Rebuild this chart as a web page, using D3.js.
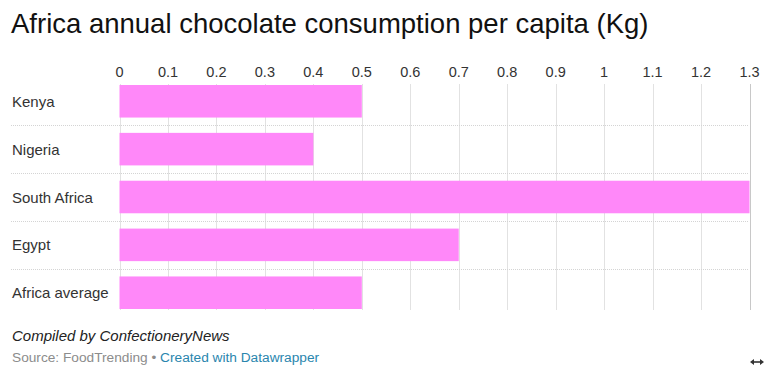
<!DOCTYPE html>
<html><head><meta charset="utf-8">
<script src="https://cdn.jsdelivr.net/npm/d3@7"></script>
<style>
body{margin:0;background:#fff;}
svg{display:block;font-family:"Liberation Sans",Arial,sans-serif;}
</style></head>
<body>
<svg id="c" width="772" height="374"></svg>
<script>
const categories = ["Kenya","Nigeria","South Africa","Egypt","Africa average"];
const values = [0.5, 0.4, 1.3, 0.7, 0.5];
const tickValues = [0,0.1,0.2,0.3,0.4,0.5,0.6,0.7,0.8,0.9,1,1.1,1.2,1.3];
const title = "Africa annual chocolate consumption per capita (Kg)";
const note = "Compiled by ConfectioneryNews";

const svg = d3.select("#c");
const x = d3.scaleLinear().domain([0,1.3]).range([119.5,749.5]);
const y = d3.scaleBand().domain(categories).range([85,309]).paddingInner(0.32).paddingOuter(0);
const rowStep = y.step();

svg.append("text").attr("x",11).attr("y",33).attr("font-size",27.5).attr("fill","#111").text(title);

// vertical grid
svg.append("g").selectAll("line").data(tickValues).join("line")
  .attr("x1",d=>Math.round(x(d))+0.5).attr("x2",d=>Math.round(x(d))+0.5)
  .attr("y1",84).attr("y2",310)
  .attr("stroke",d=>d===1.3?"#c8c8c8":"#e2e2e2").attr("stroke-width",1);

// row separators (dotted)
svg.append("g").selectAll("line").data(categories.slice(1)).join("line")
  .attr("x1",11).attr("x2",749)
  .attr("y1",d=>Math.round(y(d)-(rowStep-y.bandwidth())/2)+0.5)
  .attr("y2",d=>Math.round(y(d)-(rowStep-y.bandwidth())/2)+0.5)
  .attr("stroke","#d4d4d4").attr("stroke-dasharray","1,1");

// tick labels
svg.append("g").selectAll("text").data(tickValues).join("text")
  .attr("x",d=>x(d)).attr("y",77).attr("text-anchor","middle")
  .attr("font-size",14.5).attr("fill","#333").text(d=>d3.format("~g")(d));

// bars
svg.append("g").selectAll("rect").data(categories).join("rect")
  .attr("x",x(0)).attr("y",d=>y(d)).attr("width",(d,i)=>x(values[i])-x(0))
  .attr("height",y.bandwidth()).attr("fill","#ff88f9");

// row labels
svg.append("g").selectAll("text").data(categories).join("text")
  .attr("x",12).attr("y",d=>y(d)+y.bandwidth()/2+5.5).attr("font-size",15)
  .attr("fill","#333").text(d=>d);

// footer
svg.append("text").attr("x",12).attr("y",341).attr("font-size",15)
  .attr("font-style","italic").attr("fill","#222").text(note);
const src = svg.append("text").attr("x",12).attr("y",362).attr("font-size",13.7);
src.append("tspan").attr("fill","#8c8c8c").text("Source: FoodTrending • ");
src.append("tspan").attr("fill","#2a86ae").text("Created with Datawrapper");

// resize arrow icon
const ic = svg.append("g").attr("transform","translate(757,362)");
ic.append("line").attr("x1",-5).attr("x2",5).attr("y1",0).attr("y2",0).attr("stroke","#333").attr("stroke-width",1.6);
ic.append("path").attr("d","M-7,0 L-3,-3 L-3,3 Z M7,0 L3,-3 L3,3 Z").attr("fill","#333");
</script>
</body></html>
